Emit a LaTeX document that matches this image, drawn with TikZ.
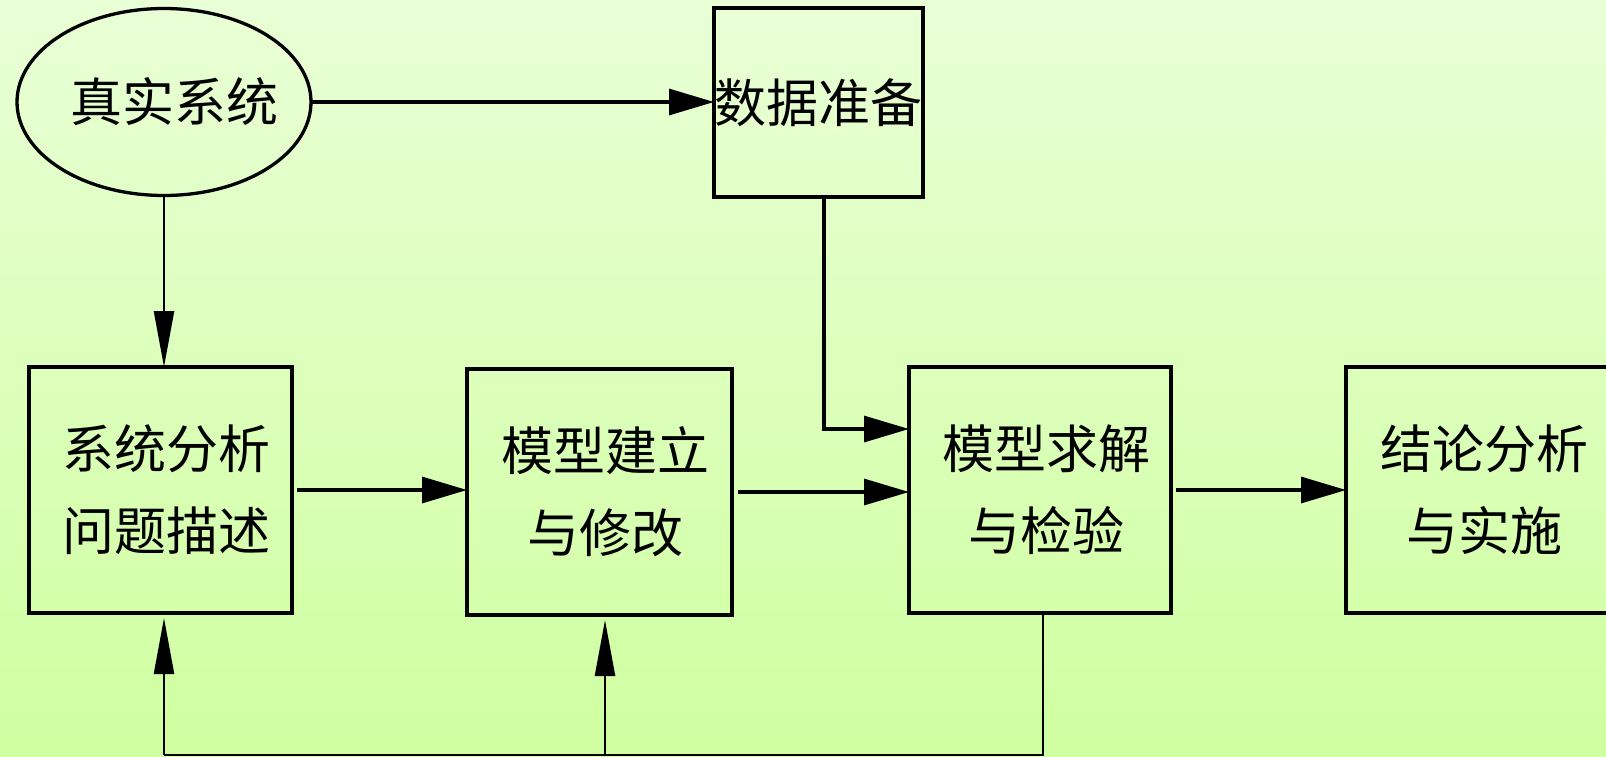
\documentclass[tikz,border=0pt]{standalone}
\usepackage{fontspec}
\setmainfont{Noto Sans CJK SC}
\usetikzlibrary{arrows.meta,shapes.geometric}
\definecolor{bgtop}{RGB}{233,255,214}
\definecolor{bgbot}{RGB}{207,255,160}
\tikzset{
  boxnode/.style={draw,line width=3.3pt,rectangle,inner sep=0pt,outer sep=0pt,
    minimum height=246pt,align=center,font=\fontsize{52}{82}\selectfont},
  ovalnode/.style={draw,line width=3.3pt,ellipse,inner sep=0pt,outer sep=0pt,
    minimum width=294pt,minimum height=187pt,font=\fontsize{52}{60}\selectfont},
  harrow/.style={line width=3.2pt,-{Triangle[length=45pt,width=26pt]}},
  varrow/.style={line width=2.4pt,-{Triangle[length=56pt,width=20pt]}},
  fbline/.style={line width=2.8pt},
}
\begin{document}
\begin{tikzpicture}[x=1pt,y=-1pt]
\shade[top color=bgtop,bottom color=bgbot] (0,0) rectangle (1606,757);
\useasboundingbox (0,0) rectangle (1606,757);
\clip (0,0) rectangle (1606,757);

\node[ovalnode] (real) at (164,102) {\makebox[0pt][c]{\hspace*{20pt}真实系统}};
\node[boxnode,minimum width=209pt,minimum height=189pt] (data) at (818.5,102.5) {数据准备};
\node[boxnode,minimum width=263pt] (sys) at (160.5,490) {\hspace*{12pt}系统分析\\\hspace*{12pt}问题描述};
\node[boxnode,minimum width=265pt] (build) at (599.5,492) {\hspace*{12pt}模型建立\\\hspace*{12pt}与修改};
\node[boxnode,minimum width=262pt] (solve) at (1040,490) {\hspace*{12pt}模型求解\\\hspace*{12pt}与检验};
\node[boxnode,minimum width=276pt] (concl) at (1484,490) {结论分析\\与实施};

\coordinate (d1) at (824,429);
\coordinate (fb) at (1043,755);
\coordinate (b1) at (605,755);
\coordinate (s1) at (164,755);

% top connections
\draw[harrow] (real.east) -- (data.west |- real.east);
\draw[varrow] (real.south) -- (real.south |- sys.north);
\draw[harrow] (data.south -| d1) -- (d1) -- (solve.west |- d1);

% main flow
\draw[harrow,shorten <=5pt] (sys.east) -- (build.west |- sys.east);
\draw[harrow,shorten <=6pt] (build.east) -- (solve.west |- build.east);
\draw[harrow,shorten <=5pt] (solve.east) -- (concl.west);

% feedback
\draw[fbline] (solve.south -| fb) -- (fb) -- (s1);
\draw[varrow,shorten >=5pt] (s1) -- (s1 |- sys.south);
\draw[varrow,shorten >=5pt] (b1) -- (b1 |- build.south);
\end{tikzpicture}
\end{document}
